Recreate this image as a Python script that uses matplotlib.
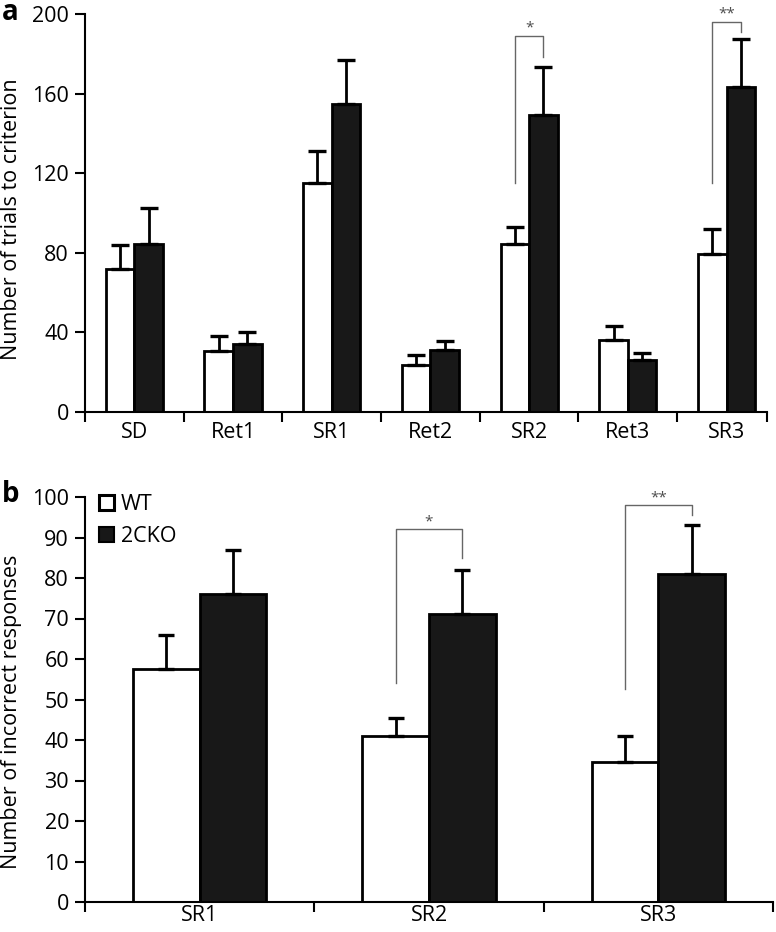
import numpy as np
import matplotlib
matplotlib.use("Agg")
import matplotlib.pyplot as plt
from matplotlib.patches import Patch

plt.rcParams['font.family'] = ['Open Sans', 'DejaVu Sans']

# ---------------- data ----------------
# panel a: trials to criterion
stages_a = ["SD", "Ret1", "SR1", "Ret2", "SR2", "Ret3", "SR3"]
wt_a = [72, 30.5, 115, 23.5, 84.5, 36, 79.5]
wt_a_err = [12, 7.5, 16, 5, 8.5, 7, 12.5]
ko_a = [84.5, 34, 155, 31, 149, 26, 163.5]
ko_a_err = [18, 6, 22, 4.5, 24.5, 3.5, 24]

# panel b: incorrect responses
stages_b = ["SR1", "SR2", "SR3"]
wt_b = [57.5, 41, 34.5]
wt_b_err = [8.5, 4.5, 6.5]
ko_b = [76, 71, 81]
ko_b_err = [11, 11, 12]

# significance brackets: (group index, left bottom, top, right bottom, label)
sig_a = [(4, 115, 189, 178.5, "*"), (6, 115, 196, 191, "**")]
sig_b = [(1, 54, 92, 85, "*"), (2, 52.5, 98, 95.5, "**")]

###########################################

W, H = 776, 932
fig = plt.figure(figsize=(W / 100, H / 100), dpi=100)
FS = 15.5
bw = 0.29
lw = 2.0


def fx(px):
    return px / W


def fy(py):
    return 1 - py / H


ax1 = fig.add_axes([fx(85), fy(412), fx(767 - 85), (412 - 14) / H])
ax2 = fig.add_axes([fx(85), fy(902), fx(773 - 85), (902 - 497) / H])


def draw(ax, cats, wt, wt_err, ko, ko_err, sig, capsize):
    x = np.arange(len(cats))
    ax.bar(x - bw / 2, wt, bw, color="white", edgecolor="black", linewidth=lw, zorder=2)
    ax.bar(x + bw / 2, ko, bw, color="#181818", edgecolor="black", linewidth=lw, zorder=2)
    ax.errorbar(x - bw / 2, wt, yerr=[np.zeros(len(x)), wt_err], fmt="none",
                ecolor="black", elinewidth=2.0, capsize=capsize, capthick=2.4, zorder=3)
    ax.errorbar(x + bw / 2, ko, yerr=[np.zeros(len(x)), ko_err], fmt="none",
                ecolor="black", elinewidth=2.0, capsize=capsize, capthick=2.4, zorder=3)
    for i, yl, yt, yr, lab in sig:
        xl, xr = i - bw / 2, i + bw / 2
        ax.plot([xl, xl, xr, xr], [yl, yt, yt, yr], color="0.4", lw=1.0,
                clip_on=False, zorder=4)
        ax.text((xl + xr) / 2, yt, lab, ha="center", va="bottom", fontsize=11,
                color="0.3", clip_on=False)
    ax.spines["top"].set_visible(False)
    ax.spines["right"].set_visible(False)
    for s in ("left", "bottom"):
        ax.spines[s].set_linewidth(1.5)
    ax.set_xticks(x)
    ax.set_xticklabels(cats, fontsize=FS)
    ax.tick_params(axis="x", which="major", length=0, pad=7)
    ax.tick_params(axis="y", labelsize=FS, length=7, width=1.5, pad=4.5)
    ax.tick_params(axis="x", which="minor", length=7, width=1.5, direction="out")


draw(ax1, stages_a, wt_a, wt_a_err, ko_a, ko_a_err, sig_a, 6.5)
ax1.set_ylim(0, 200)
ax1.set_yticks(np.arange(0, 201, 40))
ax1.set_xlim(-0.5, 6.41)
ax1.set_xticks(list(np.arange(-0.5, 6, 1.0)) + [6.41], minor=True)
ax1.set_ylabel("Number of trials to criterion", fontsize=FS)
ax1.yaxis.set_label_coords(-0.092, 0.485)

draw(ax2, stages_b, wt_b, wt_b_err, ko_b, ko_b_err, sig_b, 6)
ax2.set_ylim(0, 100)
ax2.set_yticks(np.arange(0, 101, 10))
ax2.set_xlim(-0.5, 2.5)
ax2.set_xticks(np.arange(-0.5, 2.6, 1.0), minor=True)
ax2.tick_params(axis="x", which="major", pad=2)
ax2.set_ylabel("Number of incorrect responses", fontsize=FS)
ax2.yaxis.set_label_coords(-0.091, 0.47)

handles = [Patch(facecolor="white", edgecolor="black", linewidth=2.2),
           Patch(facecolor="#181818", edgecolor="black", linewidth=1.5)]
fig.legend(handles, ["WT", "2CKO"], loc="upper left",
           bbox_to_anchor=(fx(99), fy(494)), frameon=False, fontsize=FS,
           handlelength=0.7, handleheight=0.7, handletextpad=0.3,
           labelspacing=0.5, borderpad=0, borderaxespad=0)

fig.text(fx(2), fy(13), "a", fontsize=20, fontweight="bold", va="center")
fig.text(fx(2), fy(495), "b", fontsize=20, fontweight="bold", va="center")

fig.savefig("out.png", dpi=100)
